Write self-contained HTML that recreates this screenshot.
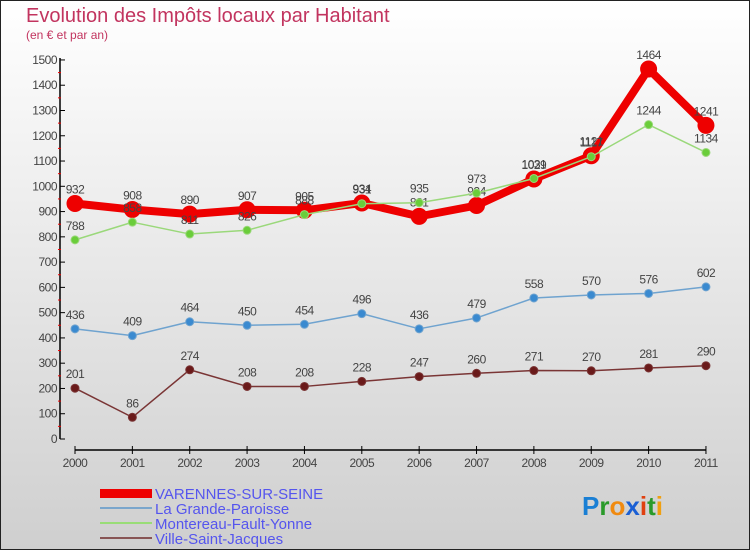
<!DOCTYPE html>
<html><head><meta charset="utf-8"><style>
body{margin:0;}
#c{width:750px;height:550px;position:relative;overflow:hidden;box-sizing:border-box;border:1px solid #222;background:linear-gradient(#ffffff,#cfcfcf);font-family:"Liberation Sans",sans-serif;}
</style></head><body>
<div id="c">
<svg id="s" width="750" height="550" style="position:absolute;left:-1px;top:-1px">
<text x="26" y="22" font-size="20" fill="#c2345f">Evolution des Impôts locaux par Habitant</text>
<text x="26" y="39" font-size="12" fill="#c2345f">(en € et par an)</text>
<g id="axes"></g><g id="series"></g>
<g>
<rect x="100" y="489" width="52" height="9" fill="#e00"/>
<text x="155" y="499" font-size="15" fill="#5555ee">VARENNES-SUR-SEINE</text>
<line x1="100" y1="508" x2="152" y2="508" stroke="#7aa6cc" stroke-width="2"/>
<text x="155" y="514" font-size="15" fill="#5555ee">La Grande-Paroisse</text>
<line x1="100" y1="523" x2="152" y2="523" stroke="#99dd77" stroke-width="2"/>
<text x="155" y="529" font-size="15" fill="#5555ee">Montereau-Fault-Yonne</text>
<line x1="100" y1="538" x2="152" y2="538" stroke="#885555" stroke-width="2"/>
<text x="155" y="544" font-size="15" fill="#5555ee">Ville-Saint-Jacques</text>
</g>
<text x="582" y="515" font-size="26" font-weight="bold"><tspan fill="#1a7fd4">P</tspan><tspan fill="#2a9a2a">r</tspan><tspan fill="#f08a10">o</tspan><tspan fill="#1a5fd4">x</tspan><tspan fill="#e04010">i</tspan><tspan fill="#2a9a2a">t</tspan><tspan fill="#f0a010">i</tspan></text>
</svg>
</div>
<script>
const years=["2000","2001","2002","2003","2004","2005","2006","2007","2008","2009","2010","2011"];
const yTicks=[0,100,200,300,400,500,600,700,800,900,1000,1100,1200,1300,1400,1500];
const varennes=[932,908,890,907,905,934,881,924,1029,1121,1464,1241];
const grande=[436,409,464,450,454,496,436,479,558,570,576,602];
const montereau=[788,858,811,826,888,931,935,973,1031,1117,1244,1134];
const ville=[201,86,274,208,208,228,247,260,271,270,281,290];
const NS="http://www.w3.org/2000/svg";
const xS=i=>75+i*57.36, yS=v=>439-v*0.2527;
function mk(t,a,p,name){const e=document.createElementNS(NS,t);for(const k in a)e.setAttribute(k,a[k]);


p.appendChild(e);return e;}
const ax=document.getElementById('axes');
mk('line',{x1:60,y1:yS(1500)-2,x2:60,y2:yS(0),stroke:'#000','stroke-width':1.5},ax,'y-axis');
yTicks.forEach(v=>{mk('line',{x1:60,y1:yS(v),x2:65,y2:yS(v),stroke:'#000'},ax,'y-tick');
const t=mk('text',{x:57,y:yS(v)+4,'text-anchor':'end','font-size':12,fill:'#444','letter-spacing':'-0.5'},ax,'y-tick-label');t.textContent=v;
if(v<1500)mk('line',{x1:58,y1:yS(v+50),x2:61,y2:yS(v+50),stroke:'#e00'},ax,'y-minor-tick');});
mk('line',{x1:xS(0),y1:450,x2:xS(11),y2:450,stroke:'#000','stroke-width':1.5},ax,'x-axis');
years.forEach((y,i)=>{mk('line',{x1:xS(i),y1:446,x2:xS(i),y2:454,stroke:'#000'},ax,'x-tick');
const t=mk('text',{x:xS(i),y:467,'text-anchor':'middle','font-size':12,fill:'#444','letter-spacing':'-0.5'},ax,'x-tick-label');t.textContent=y;});
const sg=document.getElementById('series');
function series(d,col,w,r,fill,name){
mk('polyline',{points:d.map((v,i)=>xS(i)+','+yS(v)).join(' '),fill:'none',stroke:col,'stroke-width':w,'stroke-linejoin':'round'},sg,name+'-line');
d.forEach((v,i)=>{mk('circle',{cx:xS(i),cy:yS(v),r:r,fill:fill,stroke:col,'stroke-width':1},sg,name+'-point');
const t=mk('text',{x:xS(i),y:yS(v)-10,'text-anchor':'middle','font-size':12,fill:'#444','letter-spacing':'-0.5'},sg,name+'-value-label');t.textContent=v;});}
series(ville,'#7a3535',1.5,4,'#6a1a1a','ville');
series(grande,'#6fa3cf',1.5,4,'#3a8ad0','grande');
series(varennes,'#e00',8,8,'#e00','varennes');
series(montereau,'#9ad87a',1.5,4,'#6acd3a','montereau');
</script>
</body></html>
